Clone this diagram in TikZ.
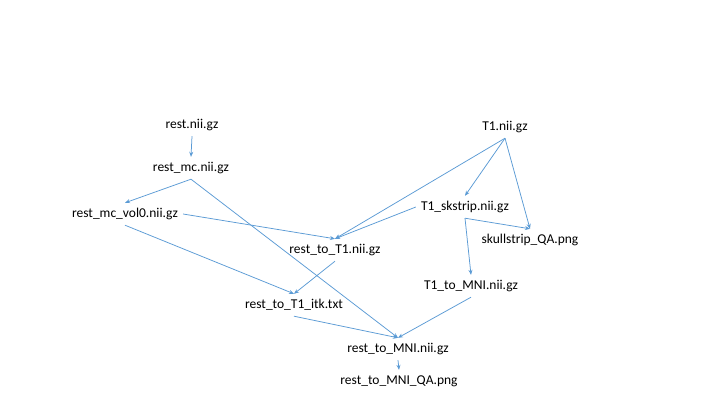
\documentclass[tikz,border=0pt]{standalone}
\usepackage{fontspec}
\setmainfont{Carlito}
\usetikzlibrary{arrows.meta}
\definecolor{lineblue}{HTML}{5B9BD5}
\begin{document}
\begin{tikzpicture}[x=1pt,y=-1pt,
  lbl/.style={inner xsep=5pt,inner ysep=0pt,minimum height=22pt,text height=9pt,text depth=3pt,font=\fontsize{13.5}{16}\selectfont},
  conn/.style={draw=lineblue,line width=0.75pt,-{Stealth[length=5pt,width=4pt]}}]
\useasboundingbox (0,0) rectangle (720,405);
\fill[white] (0,0) rectangle (720,405);
\node[lbl] (rest) at (192,125) {rest.nii.gz};
\node[lbl] (mc) at (191,168) {rest\_mc.nii.gz};
\node[lbl] (vol) at (125,214) {rest\_mc\_vol0.nii.gz};
\node[lbl] (rt1) at (335,250) {rest\_to\_T1.nii.gz};
\node[lbl] (itk) at (294,305) {rest\_to\_T1\_itk.txt};
\node[lbl] (rtm) at (398,349) {rest\_to\_MNI.nii.gz};
\node[lbl] (rtmqa) at (399,381) {rest\_to\_MNI\_QA.png};
\node[lbl] (t1) at (505,127) {T1.nii.gz};
\node[lbl] (sk) at (465,207) {T1\_skstrip.nii.gz};
\node[lbl] (qa) at (530,240) {skullstrip\_QA.png};
\node[lbl] (mni) at (471,286) {T1\_to\_MNI.nii.gz};
\draw[conn] (rest.south) -- (mc.north);
\draw[conn] (mc.south) -- (vol.north);
\draw[conn] (mc.south) -- (rtm.north);
\draw[conn] (vol.east) -- (rt1.north);
\draw[conn] (vol.south) -- (itk.north);
\draw[conn] (t1.south) -- (rt1.north);
\draw[conn] (t1.south) -- (sk.north);
\draw[conn] (t1.south) -- (qa.north);
\draw[conn] (sk.west) -- (rt1.north);
\draw[conn] (sk.south) -- (qa.north);
\draw[conn] (sk.south) -- (mni.north);
\draw[conn] (rt1.south) -- (itk.north);
\draw[conn] (itk.south) -- (rtm.north);
\draw[conn] (mni.south) -- (rtm.north);
\draw[conn] (rtm.south) -- (rtmqa.north);
\end{tikzpicture}
\end{document}
